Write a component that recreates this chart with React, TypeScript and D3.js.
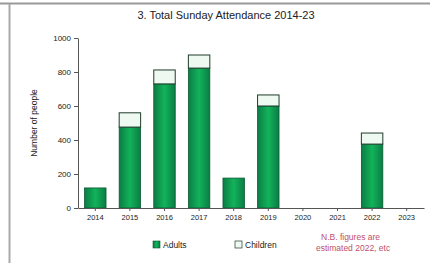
import React, { useEffect, useRef } from "react";
import * as d3 from "d3";

const years = ["2014", "2015", "2016", "2017", "2018", "2019", "2020", "2021", "2022", "2023"];
const adults = [118, 476, 730, 823, 176, 600, 0, 0, 376, 0];
const children = [0, 84, 82, 77, 0, 65, 0, 0, 65, 0];
const yTicks = [0, 200, 400, 600, 800, 1000];

const App: React.FC = () => {
  const svgRef = useRef<SVGSVGElement | null>(null);

  useEffect(() => {
    const width = 430;
    const height = 263;
    const marginLeft = 78;
    const marginRight = 6;
    const marginTop = 38;
    const plotBottom = 208;
    const font = "Arial, Liberation Sans, sans-serif";

    const svg = d3.select(svgRef.current);
    svg.selectAll("*").remove();
    svg.attr("width", width).attr("height", height).style("display", "block");

    // background + frame
    svg.append("rect").attr("width", width).attr("height", height).attr("fill", "#fff");
    svg.append("line").attr("x1", 0).attr("x2", width).attr("y1", 3.5).attr("y2", 3.5)
      .attr("stroke", "#999").attr("stroke-width", 2);
    svg.append("line").attr("x1", 9.5).attr("x2", 9.5).attr("y1", 4).attr("y2", height)
      .attr("stroke", "#aaa").attr("stroke-width", 2);

    const defs = svg.append("defs");
    const grad = defs.append("linearGradient").attr("id", "adultGrad")
      .attr("x1", 0).attr("x2", 1).attr("y1", 0).attr("y2", 0);
    grad.append("stop").attr("offset", "0%").attr("stop-color", "#0b7d45");
    grad.append("stop").attr("offset", "50%").attr("stop-color", "#12b35a");
    grad.append("stop").attr("offset", "100%").attr("stop-color", "#0b7d45");

    const x = d3.scaleBand().domain(years)
      .range([marginLeft, width - marginRight]).paddingInner(0.38).paddingOuter(0.19);
    const y = d3.scaleLinear().domain([0, 1000]).range([plotBottom, marginTop]);

    // title
    svg.append("text").attr("x", 226).attr("y", 19).attr("text-anchor", "middle")
      .attr("font-family", font).attr("font-size", 11)
      .attr("fill", "#222").text("3. Total Sunday Attendance 2014-23");

    // bars
    const g = svg.append("g");
    years.forEach((yr, i) => {
      const bx = x(yr) as number;
      const bw = x.bandwidth();
      if (adults[i] > 0) {
        g.append("rect").attr("x", bx).attr("y", y(adults[i]))
          .attr("width", bw).attr("height", y(0) - y(adults[i]))
          .attr("fill", "url(#adultGrad)").attr("stroke", "#0a5a33").attr("stroke-width", 0.8);
      }
      if (children[i] > 0) {
        const top = y(adults[i] + children[i]);
        g.append("rect").attr("x", bx).attr("y", top)
          .attr("width", bw).attr("height", y(adults[i]) - top)
          .attr("fill", "#eef9f1").attr("stroke", "#1f3b2a").attr("stroke-width", 1);
      }
    });

    // y axis
    const gy = svg.append("g").attr("transform", `translate(${marginLeft},0)`)
      .call(d3.axisLeft(y).tickValues(yTicks).tickFormat(d3.format("d")).tickSize(4).tickSizeOuter(0));
    gy.selectAll("text").attr("font-size", 8).attr("font-family", font).attr("fill", "#222");
    gy.selectAll("line, path").attr("stroke", "#555");

    // x axis
    const gx = svg.append("g").attr("transform", `translate(0,${plotBottom})`)
      .call(d3.axisBottom(x).tickSize(3).tickSizeOuter(0).tickPadding(4));
    gx.selectAll("text").attr("font-size", 7.5).attr("font-family", font).attr("fill", "#222");
    gx.selectAll("line, path").attr("stroke", "#555");

    // y axis label
    svg.append("text").attr("transform", `translate(37,${(marginTop + plotBottom) / 2}) rotate(-90)`)
      .attr("text-anchor", "middle").attr("font-size", 8.5).attr("font-family", font)
      .attr("fill", "#222").text("Number of people");

    // legend
    const lg = svg.append("g").attr("font-family", font).attr("font-size", 8.5).attr("fill", "#222");
    lg.append("rect").attr("x", 153).attr("y", 241).attr("width", 7).attr("height", 7)
      .attr("fill", "url(#adultGrad)").attr("stroke", "#0a5a33").attr("stroke-width", 0.6);
    lg.append("text").attr("x", 163).attr("y", 248).text("Adults");
    lg.append("rect").attr("x", 235).attr("y", 241).attr("width", 7).attr("height", 7)
      .attr("fill", "#eef9f1").attr("stroke", "#1f3b2a").attr("stroke-width", 0.7);
    lg.append("text").attr("x", 245).attr("y", 248).text("Children");
    lg.append("text").attr("x", 321).attr("y", 240).attr("fill", "#c0506a").text("N.B. figures are");
    lg.append("text").attr("x", 316).attr("y", 251).attr("fill", "#c0506a").text("estimated 2022, etc");
  }, []);

  return <svg ref={svgRef} style={{ position: "absolute", left: 0, top: 0 }} />;
};

export default App;
